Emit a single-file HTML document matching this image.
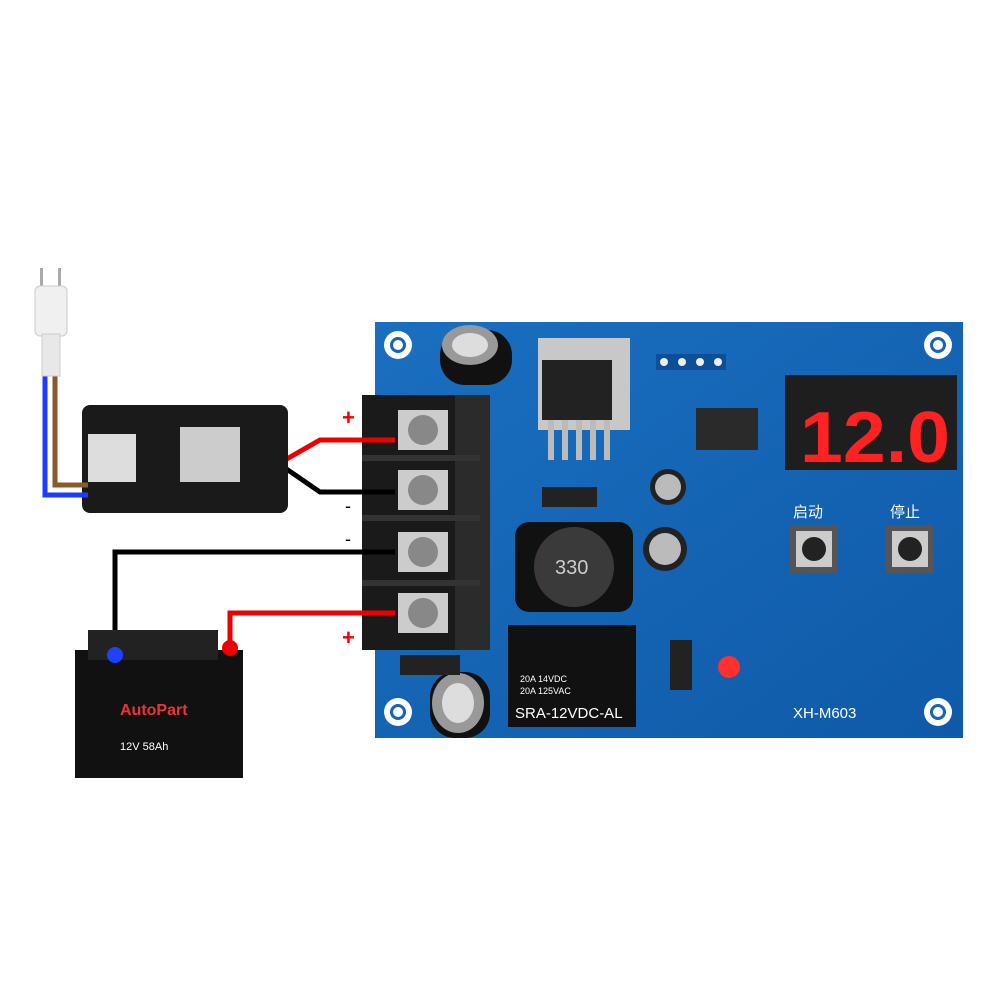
<!DOCTYPE html>
<html><head><meta charset="utf-8"><style>
body{margin:0;background:#fff;width:1002px;height:1002px;overflow:hidden;position:relative;font-family:"Liberation Sans","Noto Sans CJK SC",sans-serif}
.a{position:absolute}
</style></head><body>
<svg class="a" style="left:0;top:0" width="1002" height="1002">
<defs>
<linearGradient id="pcb" x1="0" y1="0" x2="1" y2="1"><stop offset="0" stop-color="#1a6fc0"/><stop offset="1" stop-color="#0f5aa8"/></linearGradient>
</defs>
<rect x="375" y="322" width="588" height="416" fill="url(#pcb)"/>
<g fill="#fff"><circle cx="398" cy="345" r="14"/><circle cx="938" cy="345" r="14"/><circle cx="398" cy="712" r="14"/><circle cx="938" cy="712" r="14"/></g>
<g fill="#1565b8"><circle cx="398" cy="345" r="8"/><circle cx="938" cy="345" r="8"/><circle cx="398" cy="712" r="8"/><circle cx="938" cy="712" r="8"/></g>
<g fill="#fff"><circle cx="398" cy="345" r="5"/><circle cx="938" cy="345" r="5"/><circle cx="398" cy="712" r="5"/><circle cx="938" cy="712" r="5"/></g>
<rect x="440" y="330" width="72" height="55" rx="25" fill="#111"/>
<ellipse cx="470" cy="345" rx="28" ry="20" fill="#999"/><ellipse cx="470" cy="345" rx="18" ry="12" fill="#ddd"/>
<rect x="430" y="672" width="60" height="66" rx="25" fill="#111"/>
<ellipse cx="458" cy="703" rx="26" ry="30" fill="#999"/><ellipse cx="458" cy="703" rx="16" ry="20" fill="#ddd"/>
<rect x="538" y="338" width="92" height="92" fill="#c8c8c8"/>
<rect x="542" y="360" width="70" height="60" fill="#222"/>
<g fill="#bbb"><rect x="548" y="420" width="6" height="40"/><rect x="562" y="420" width="6" height="40"/><rect x="576" y="420" width="6" height="40"/><rect x="590" y="420" width="6" height="40"/><rect x="604" y="420" width="6" height="40"/></g>
<rect x="656" y="354" width="70" height="16" fill="#0d4f96"/>
<g fill="#eee"><circle cx="664" cy="362" r="4"/><circle cx="682" cy="362" r="4"/><circle cx="700" cy="362" r="4"/><circle cx="718" cy="362" r="4"/></g>
<rect x="696" y="408" width="62" height="42" fill="#2a2a2a"/>
<rect x="785" y="375" width="172" height="95" fill="#1e1e1e"/>
<text x="800" y="462" font-size="72" font-weight="bold" fill="#ff2222" font-family="Liberation Sans,sans-serif" textLength="150" lengthAdjust="spacingAndGlyphs">12.0</text>
<rect x="790" y="525" width="48" height="48" fill="#555"/><rect x="796" y="531" width="36" height="36" fill="#ccc"/><circle cx="814" cy="549" r="12" fill="#222"/>
<rect x="886" y="525" width="48" height="48" fill="#555"/><rect x="892" y="531" width="36" height="36" fill="#ccc"/><circle cx="910" cy="549" r="12" fill="#222"/>
<rect x="515" y="522" width="118" height="90" rx="14" fill="#111"/>
<circle cx="574" cy="567" r="40" fill="#3a3a3a"/>
<text x="555" y="574" font-size="20" fill="#ccc">330</text>
<circle cx="668" cy="487" r="18" fill="#222"/><circle cx="668" cy="487" r="13" fill="#bbb"/>
<circle cx="665" cy="549" r="22" fill="#222"/><circle cx="665" cy="549" r="16" fill="#bbb"/>
<rect x="508" y="625" width="128" height="102" fill="#111"/>
<text x="520" y="682" font-size="9" fill="#fff">20A 14VDC</text>
<text x="520" y="694" font-size="9" fill="#fff">20A 125VAC</text>
<text x="515" y="718" font-size="15" fill="#fff">SRA-12VDC-AL</text>
<rect x="670" y="640" width="22" height="50" fill="#222"/>
<circle cx="729" cy="667" r="11" fill="#ff3030"/>
<rect x="542" y="487" width="55" height="20" fill="#222"/>
<rect x="400" y="655" width="60" height="20" fill="#222"/>
<text x="793" y="718" font-size="15" fill="#fff">XH-M603</text>
<text x="793" y="517" font-size="15" fill="#fff">启动</text>
<text x="890" y="517" font-size="15" fill="#fff">停止</text>
<rect x="362" y="395" width="118" height="255" fill="#1a1a1a"/>
<rect x="455" y="395" width="35" height="255" fill="#2b2b2b"/>
<g fill="#333"><rect x="362" y="455" width="118" height="6"/><rect x="362" y="515" width="118" height="6"/><rect x="362" y="580" width="118" height="6"/></g>
<g fill="#ccc"><rect x="398" y="410" width="50" height="40"/><rect x="398" y="470" width="50" height="40"/><rect x="398" y="532" width="50" height="40"/><rect x="398" y="593" width="50" height="40"/></g>
<g fill="#888"><circle cx="423" cy="430" r="15"/><circle cx="423" cy="490" r="15"/><circle cx="423" cy="552" r="15"/><circle cx="423" cy="613" r="15"/></g>
<g fill="none" stroke-width="5">
<path d="M285 460 L320 440 L395 440" stroke="#e00"/>
<path d="M285 468 L320 492 L395 492" stroke="#000"/>
<path d="M395 552 L115 552 L115 655" stroke="#000"/>
<path d="M395 613 L230 613 L230 645" stroke="#e00"/>
</g>
<text x="342" y="425" font-size="22" fill="#e00" font-weight="bold">+</text>
<text x="342" y="645" font-size="22" fill="#e00" font-weight="bold">+</text>
<text x="345" y="512" font-size="18" fill="#000">-</text>
<text x="345" y="545" font-size="18" fill="#000">-</text>
<rect x="82" y="405" width="206" height="108" rx="8" fill="#1a1a1a"/>
<rect x="88" y="434" width="48" height="48" fill="#ddd"/>
<rect x="180" y="427" width="60" height="55" fill="#ccc"/>
<path d="M45 375 L45 495 L88 495" stroke="#1e3cff" stroke-width="5" fill="none"/>
<path d="M55 375 L55 485 L88 485" stroke="#8b5a2b" stroke-width="5" fill="none"/>
<rect x="40" y="268" width="3" height="20" fill="#aaa"/><rect x="58" y="268" width="3" height="20" fill="#aaa"/>
<rect x="35" y="286" width="32" height="50" rx="5" fill="#f0f0f0" stroke="#ccc"/>
<rect x="42" y="334" width="18" height="42" fill="#e8e8e8" stroke="#ccc"/>
<rect x="75" y="650" width="168" height="128" fill="#111"/>
<rect x="88" y="630" width="130" height="30" fill="#222"/>
<circle cx="115" cy="655" r="8" fill="#2040ff"/><circle cx="230" cy="648" r="8" fill="#e00"/>
<text x="120" y="715" font-size="16" fill="#e33" font-weight="bold">AutoPart</text>
<text x="120" y="750" font-size="11" fill="#fff">12V 58Ah</text>
</svg>
</body></html>
